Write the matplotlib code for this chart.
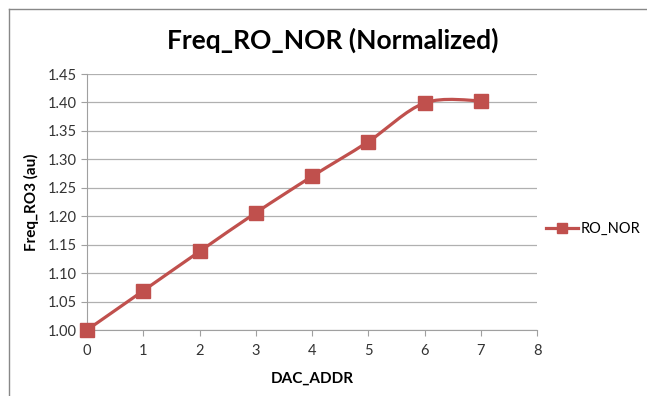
import numpy as np
import matplotlib
matplotlib.use("Agg")
import matplotlib.pyplot as plt
from matplotlib.path import Path
from matplotlib.patches import PathPatch
from matplotlib.lines import Line2D

dac_addr = [0, 1, 2, 3, 4, 5, 6, 7]
freq_ro_nor = [1.000, 1.069, 1.138, 1.206, 1.270, 1.331, 1.399, 1.403]
y_ticks = [1.00, 1.05, 1.10, 1.15, 1.20, 1.25, 1.30, 1.35, 1.40, 1.45]
x_ticks = [0, 1, 2, 3, 4, 5, 6, 7, 8]
series_name = "RO_NOR"
title = "Freq_RO_NOR (Normalized)"

plt.rcParams['font.family'] = ['Lato', 'DejaVu Sans']
color = '#C0504D'
W, H = 647, 396
fig = plt.figure(figsize=(W/100, H/100), dpi=100)
fig.patch.set_facecolor('white')
# chart frame (only top and left edges visible in the crop)
fig.add_artist(Line2D([9/W, 9/W], [0, 1-9/H], transform=fig.transFigure, color='#888888', lw=1.0))
fig.add_artist(Line2D([9/W, 1], [1-9/H, 1-9/H], transform=fig.transFigure, color='#888888', lw=1.0))

ax = fig.add_axes([87/W, 1-330/H, 450/W, 256/H])
ax.set_xlim(0, 8)
ax.set_ylim(1.0, 1.45)
ax.set_xticks(x_ticks)
ax.set_yticks(y_ticks)
ax.set_yticklabels([f"{v:.2f}" for v in y_ticks])
ax.grid(axis='y', color='#B0B0B0', lw=0.9)
ax.set_axisbelow(True)
for s in ['top', 'right']:
    ax.spines[s].set_visible(False)
for s in ['left', 'bottom']:
    ax.spines[s].set_color('#A0A0A0')
ax.tick_params(axis='both', colors='#A0A0A0', labelcolor='#333333', labelsize=10.5, length=4)
ax.tick_params(axis='x', pad=6)

# smooth curve (Catmull-Rom style Bezier through data points)
x = np.array(dac_addr, float); y = np.array(freq_ro_nor, float)
verts = [(x[0], y[0])]; codes = [Path.MOVETO]
t = 1/6
for i in range(len(x)-1):
    p0 = (x[i-1], y[i-1]) if i > 0 else (x[i], y[i])
    p1 = (x[i], y[i]); p2 = (x[i+1], y[i+1])
    p3 = (x[i+2], y[i+2]) if i+2 < len(x) else (x[i+1], y[i+1])
    c1 = (p1[0] + (p2[0]-p0[0])*t, p1[1] + (p2[1]-p0[1])*t)
    c2 = (p2[0] - (p3[0]-p1[0])*t, p2[1] - (p3[1]-p1[1])*t)
    verts += [c1, c2, p2]; codes += [Path.CURVE4]*3
ax.add_patch(PathPatch(Path(verts, codes), fill=False, edgecolor=color, lw=2.3, clip_on=False, zorder=3))
ax.plot(dac_addr, freq_ro_nor, ls='none', marker='s', ms=10, color=color, clip_on=False, zorder=4)

ax.set_xlabel("DAC_ADDR", fontsize=11, fontweight='bold', labelpad=10)
ax.set_ylabel("Freq_RO3 (au)", fontsize=11, fontweight='bold', labelpad=6)
fig.text(333/W, 1-40/H, title, fontsize=19, fontweight='bold', ha='center', va='center')

h = Line2D([], [], color=color, lw=2.3, marker='s', ms=7)
fig.legend([h], [series_name], loc='center left', bbox_to_anchor=(533/W, 1-229/H),
           frameon=False, fontsize=10.5, handlelength=2.2, handletextpad=0.2)

fig.savefig("out.png", dpi=100)
